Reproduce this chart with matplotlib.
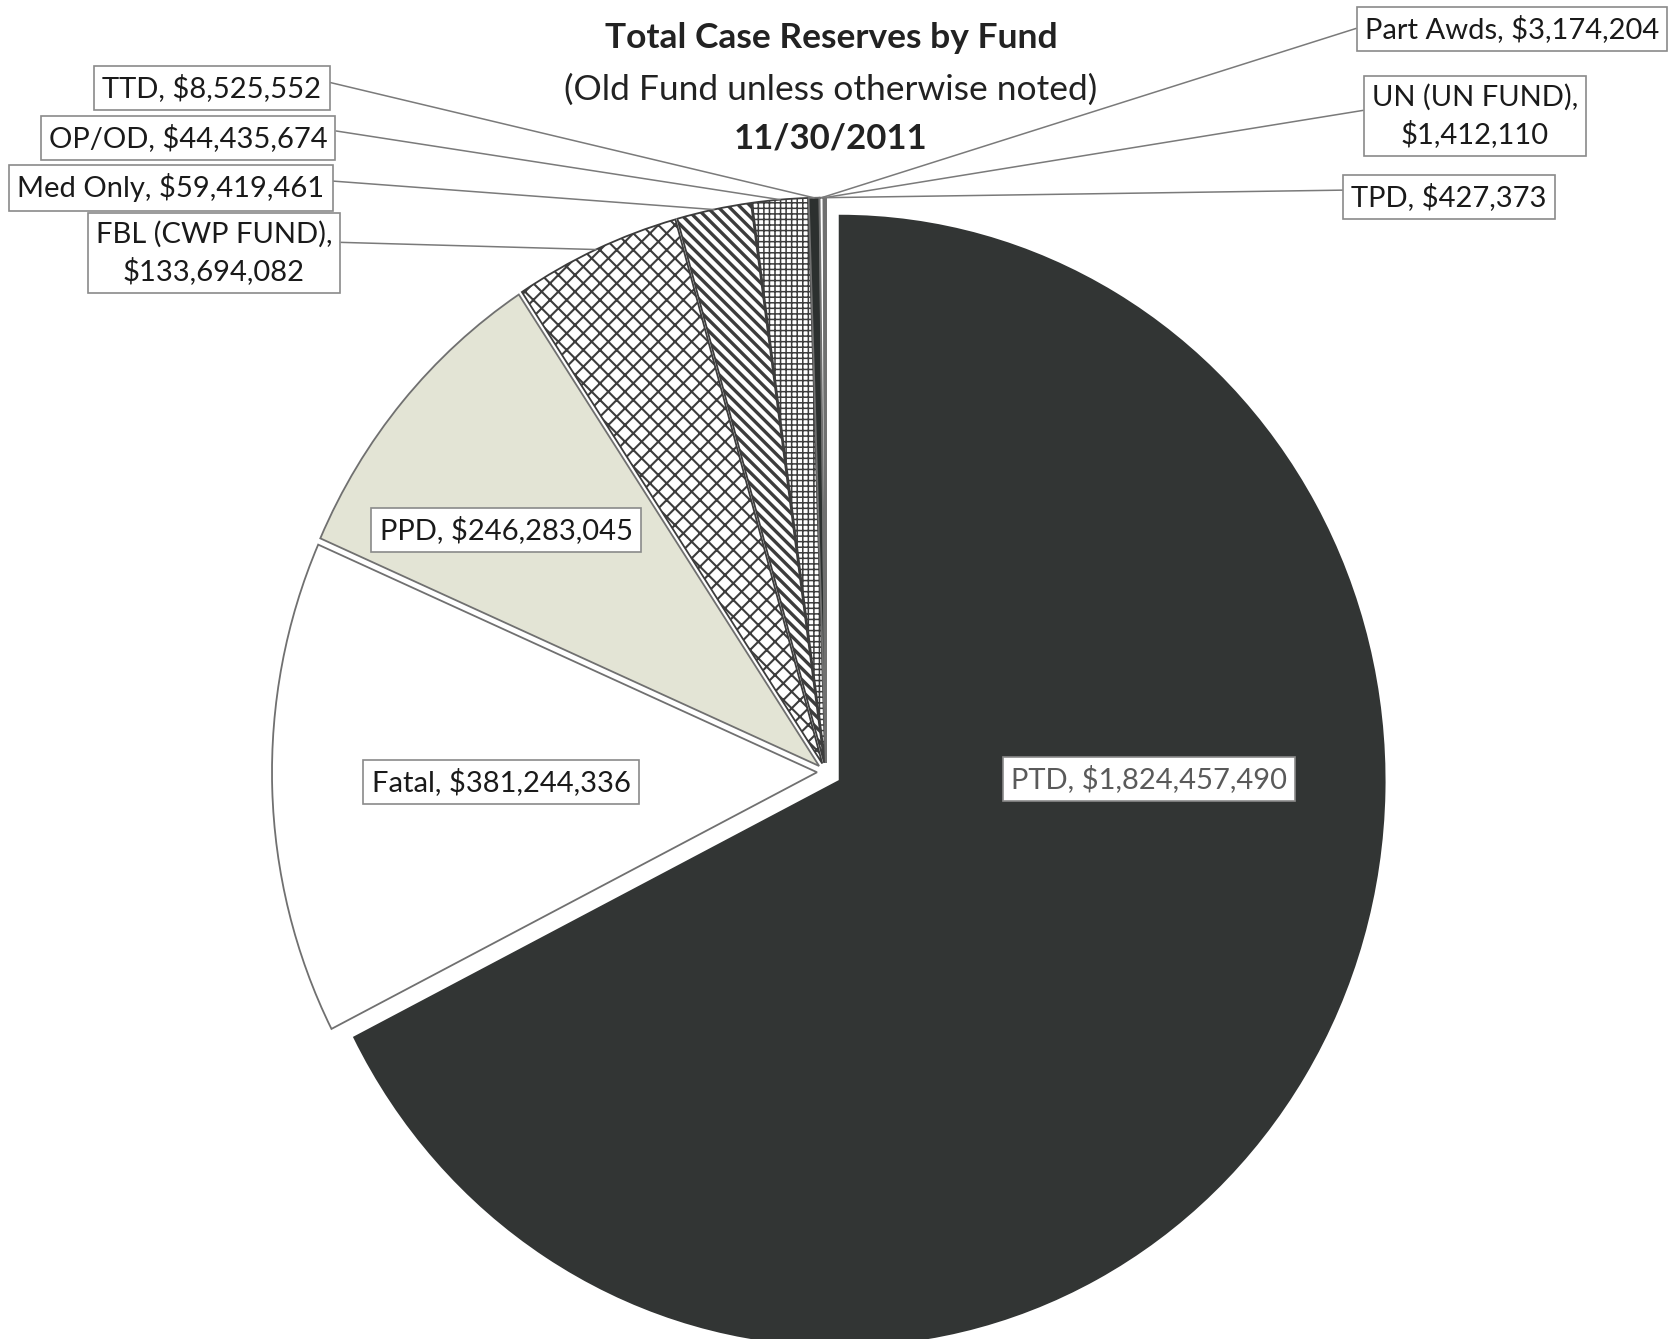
import numpy as np
import matplotlib.pyplot as plt

plt.rcParams['font.family'] = ['Lato', 'DejaVu Sans']
plt.rcParams['hatch.linewidth'] = 1.8

# reserves by fund, in the order they run clockwise from 12 o'clock
funds = ['PTD', 'Fatal', 'PPD', 'FBL (CWP FUND)', 'Med Only', 'OP/OD', 'TTD',
         'Part Awds', 'UN (UN FUND)', 'TPD']
reserves = [1824457490, 381244336, 246283045, 133694082, 59419461, 44435674,
            8525552, 3174204, 1412110, 427373]

# slice styling
fills = ['#323534', 'white', '#e3e4d5', 'white', 'white', 'white', '#2c302f',
         'white', 'white', '#555555']
hatches = [None, None, None, 'xx', '\\\\\\', '+++', None, None, None, None]
hatch_lw = [None, None, None, 1.5, 2.4, 1.1, None, None, None, None]
explode = [16] + [9] * 9     # pixel offsets; PTD pulled out further

W, H = 1671, 1339
k = 565 / 545.0          # the printed pie is a little taller than wide


def pos(x, y):
    # page pixel position -> axes data
    return x, (H - y) / k


fig = plt.figure(figsize=(W / 100, H / 100), dpi=100)
ax = fig.add_axes([0, 0, 1, 1])

wedges, _ = ax.pie(reserves, explode=explode, colors=fills, hatch=hatches,
                   startangle=90, counterclock=False,
                   center=pos(826, 772), radius=545,
                   wedgeprops=dict(edgecolor='#707070', linewidth=1.3))
wedges[0].set_edgecolor(fills[0])
for w, h, hl in zip(wedges, hatches, hatch_lw):
    if h:
        w.set_edgecolor('#3c3c3c')
        if hasattr(w, 'set_hatch_linewidth'):
            w.set_hatch_linewidth(hl)

ax.set_aspect('auto')
ax.set_xlim(0, W)
ax.set_ylim(0, H / k)
ax.axis('off')

# titles
ax.text(*pos(831, 38), 'Total Case Reserves by Fund', ha='center', va='center',
        fontsize=25.5, fontweight='bold', color='#222222')
ax.text(*pos(831, 90), '(Old Fund unless otherwise noted)', ha='center',
        va='center', fontsize=25.5, color='#222222')
ax.text(*pos(831, 139), '11/30/2011', ha='center', va='center',
        fontsize=25, fontweight='bold', color='#222222')

# label boxes: page positions and where the leader leaves the box
label_xy = [(1149, 779), (501, 782), (506, 530), (214, 253), (171, 188),
            (188, 138), (212, 88), (1512, 29), (1475, 116), (1449, 197)]
leader_rel = [None, None, None, (1, 0.67), (1, 0.76), (1, 0.8), (1, 0.77),
              (0, 0.62), (0, 0.61), (0, 0.75)]

box = dict(boxstyle='square,pad=0.28', fc='white', ec='#8a8a8a', lw=1.2)
for i, (name, val) in enumerate(zip(funds, reserves)):
    sep = ',\n' if '(' in name else ', '
    txt = f'{name}{sep}${val:,}'
    tcol = '#5a5a5a' if i == 0 else '#1a1a1a'
    w = wedges[i]
    if leader_rel[i] is None:
        ax.text(*pos(*label_xy[i]), txt, ha='center', va='center',
                fontsize=21, color=tcol, bbox=box)
    else:
        m = np.deg2rad((w.theta1 + w.theta2) / 2)
        tip = (w.center[0] + w.r * np.cos(m), w.center[1] + w.r * np.sin(m))
        ax.annotate(txt, xy=tip, xytext=pos(*label_xy[i]), ha='center',
                    va='center', multialignment='center', fontsize=21,
                    linespacing=1.4, color=tcol, bbox=box,
                    arrowprops=dict(arrowstyle='-', color='#7a7a7a', lw=1.1,
                                    shrinkA=0, shrinkB=0,
                                    relpos=leader_rel[i]))

fig.savefig('out.png', dpi=100, facecolor='white')
